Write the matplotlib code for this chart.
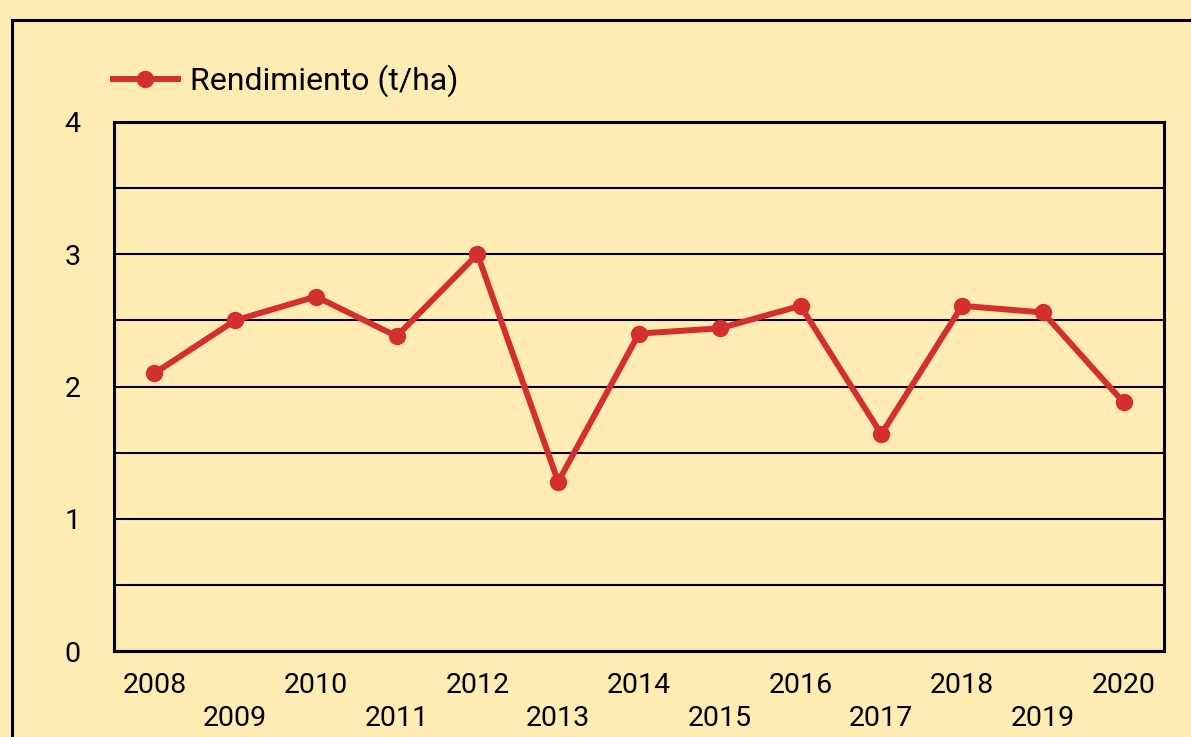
import matplotlib
matplotlib.use("Agg")
import matplotlib.pyplot as plt
from matplotlib.patches import Rectangle

years = ["2008", "2009", "2010", "2011", "2012", "2013", "2014",
         "2015", "2016", "2017", "2018", "2019", "2020"]
rendimiento = [2.10, 2.50, 2.68, 2.38, 3.00, 1.28, 2.40,
               2.44, 2.61, 1.64, 2.61, 2.56, 1.88]
y_ticks = [0, 1, 2, 3, 4]
series_label = "Rendimiento (t/ha)"

bg = "#FFECB3"
red = "#D32F2F"
plt.rcParams['font.family'] = ['Roboto', 'DejaVu Sans']

fig = plt.figure(figsize=(11.91, 7.37), dpi=100, facecolor=bg)
ax = fig.add_axes([114/1191, 1-651/737, 1050/1191, 529/737])
ax.set_facecolor(bg)

# outer panel border
fig.patches.append(Rectangle((12/1191, -0.2), 2.0, 1.2 - 20/737,
                             transform=fig.transFigure, fill=False,
                             edgecolor='black', linewidth=2.2, zorder=0))

x = list(range(len(years)))
ax.plot(x, rendimiento, color=red, linewidth=4.3, marker='o',
        markersize=11.5, label=series_label, zorder=3, clip_on=False)

ax.set_xlim(-0.5, len(years) - 0.5)
ax.set_ylim(0, 4)
ax.set_yticks(y_ticks)
ax.set_yticks([0.5, 1.5, 2.5, 3.5], minor=True)
ax.yaxis.grid(True, which='both', color='black', linewidth=1.5)
ax.set_axisbelow(True)

even = x[0::2]
odd = x[1::2]
ax.set_xticks(even)
ax.set_xticklabels(years[0::2])
ax.set_xticks(odd, minor=True)
ax.set_xticklabels(years[1::2], minor=True)

ax.tick_params(axis='x', which='major', length=0, pad=15, labelsize=20.5)
ax.tick_params(axis='x', which='minor', length=0, pad=39, labelsize=20.5)
ax.tick_params(axis='y', which='both', length=0, pad=30, labelsize=20.5)
for lab in ax.get_yticklabels():
    lab.set_horizontalalignment('center')

for s in ax.spines.values():
    s.set_linewidth(2.2)
    s.set_color('black')

leg = ax.legend(loc='center left', bbox_to_anchor=(113/1191, 1-81/737),
                bbox_transform=fig.transFigure, frameon=False,
                handlelength=2.03, handletextpad=0.37, borderpad=0,
                borderaxespad=0, fontsize=23)

fig.savefig("out.png", dpi=100, facecolor=bg)
